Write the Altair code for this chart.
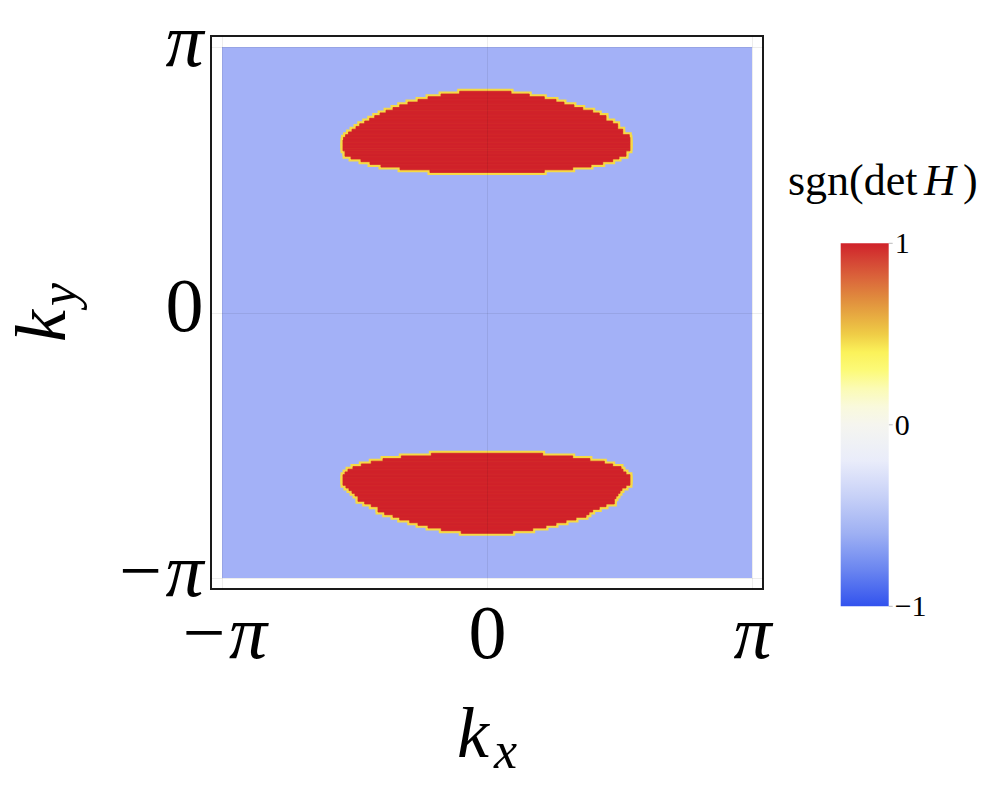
import math
import altair as alt
import pandas as pd

PI = math.pi

# ---- data: sign of det H on the Brillouin zone -------------------------
# background value of the whole zone
BG_VALUE = -1
# upper region (sgn = +1): row edges in ky (top -> bottom) and kx extent of each row
UP_KY_EDGES = [2.618, 2.586, 2.554, 2.522, 2.490, 2.458, 2.426, 2.394, 2.362, 2.330,
               2.298, 2.266, 2.234, 2.202, 2.169, 2.137, 2.105, 2.073, 2.041, 2.009,
               1.977, 1.945, 1.913, 1.881, 1.849, 1.817, 1.785, 1.753, 1.721, 1.689, 1.657]
UP_KX_LEFT = [-0.324, -0.545, -0.699, -0.818, -0.937, -1.035, -1.114, -1.197, -1.268, -1.331,
              -1.391, -1.450, -1.509, -1.553, -1.600, -1.642, -1.677, -1.701, -1.707, -1.707,
              -1.707, -1.707, -1.683, -1.683, -1.612, -1.494, -1.387, -1.257, -1.031, -0.676]
UP_KX_RIGHT = [0.285, 0.501, 0.679, 0.818, 0.913, 1.031, 1.135, 1.253, 1.331, 1.411,
               1.411, 1.490, 1.549, 1.549, 1.609, 1.609, 1.687, 1.695, 1.695, 1.695,
               1.695, 1.695, 1.648, 1.648, 1.565, 1.490, 1.372, 1.233, 1.016, 0.679]
# lower region (sgn = +1)
LO_KY_EDGES = [-1.666, -1.697, -1.729, -1.760, -1.792, -1.824, -1.855, -1.887, -1.919, -1.950,
               -1.982, -2.013, -2.045, -2.077, -2.108, -2.140, -2.172, -2.203, -2.235, -2.266,
               -2.298, -2.330, -2.361, -2.393, -2.424, -2.456, -2.488, -2.519, -2.551, -2.582, -2.614]
LO_KX_LEFT = [-0.660, -1.016, -1.233, -1.372, -1.490, -1.589, -1.648, -1.683, -1.707, -1.707,
              -1.707, -1.707, -1.672, -1.636, -1.600, -1.565, -1.529, -1.529, -1.450, -1.372,
              -1.292, -1.292, -1.213, -1.114, -1.035, -0.916, -0.818, -0.699, -0.542, -0.305]
LO_KX_RIGHT = [0.660, 1.016, 1.220, 1.391, 1.490, 1.589, 1.612, 1.648, 1.695, 1.695,
               1.695, 1.695, 1.648, 1.600, 1.577, 1.553, 1.529, 1.509, 1.509, 1.411,
               1.331, 1.253, 1.209, 1.174, 1.055, 0.937, 0.818, 0.699, 0.542, 0.305]
BLOB_VALUE = 1

# colour bar stops
C_STOPS = [-1, -0.8, -0.6, -0.4, -0.2, 0, 0.15, 0.3, 0.4, 0.5, 0.65, 0.85, 1]
C_COLORS = ["#3252ee", "#6a85f0", "#9eb0f3", "#c6d0f7", "#e9ecfa", "#f5f5ef", "#fbfbd2",
            "#fcfa78", "#fbf25a", "#efcc46", "#e39a3e", "#d8583a", "#d0222a"]
CBAR_VALUES = [1, 0, -1]
CBAR_LABELS = ["1", "0", "−1"]
TICK_VALUES = [-PI, 0, PI]

# ---- tables ------------------------------------------------------------
bg = pd.DataFrame({"kx0": [-PI], "kx1": [PI], "ky0": [-PI], "ky1": [PI], "v": [BG_VALUE]})
rows = []
for edges, left, right in ((UP_KY_EDGES, UP_KX_LEFT, UP_KX_RIGHT),
                           (LO_KY_EDGES, LO_KX_LEFT, LO_KX_RIGHT)):
    for i in range(len(left)):
        rows.append({"kx0": left[i], "kx1": right[i],
                     "ky0": edges[i + 1], "ky1": edges[i], "v": BLOB_VALUE})
blobs = pd.DataFrame(rows)

SERIF = "Liberation Serif"
W, H = 552, 553
PADK = 0.1305  # white margin inside the frame, in k units

xscale = alt.Scale(domain=[-PI - PADK, PI + PADK], nice=False, zero=False)
yscale = alt.Scale(domain=[-PI - PADK * H / W, PI + PADK * H / W], nice=False, zero=False)
cscale = alt.Scale(domain=C_STOPS, range=C_COLORS, interpolate="rgb")

italic_but_zero = {"condition": {"test": "datum.value == 0", "value": "normal"}, "value": "italic"}
pi_expr = "datum.value < -1 ? '−π' : datum.value > 1 ? 'π' : '0'"


def make_axis(pad, offset):
    return alt.Axis(values=TICK_VALUES, labelExpr=pi_expr, title=None, domain=False,
                    ticks=False, tickSize=0, labelFont=SERIF, labelFontSize=76,
                    labelColor="black", labelPadding=pad, labelOffset=offset,
                    labelFlush=False, labelOverlap=False, labelFontStyle=italic_but_zero,
                    grid=True, gridColor="black", gridOpacity=0.07, gridWidth=1, zindex=1)


xaxis = make_axis(8, 0)
yaxis = make_axis(8, -5)

# colour bar geometry (relative to the plot's top-left corner)
CB_X, CB_Y, CB_LEN, CB_THICK = 629.7, 207.3, 363, 48

legend = alt.Legend(title=None, orient="none", legendX=CB_X, legendY=CB_Y, direction="vertical",
                    type="gradient", gradientLength=CB_LEN, gradientThickness=CB_THICK,
                    gradientStrokeWidth=0, gradientOpacity=1, values=[-1, 0, 1],
                    labelExpr="''", labelOpacity=0, padding=0)

enc = dict(
    x=alt.X("kx0:Q", scale=xscale, axis=xaxis),
    x2="kx1:Q",
    y=alt.Y("ky0:Q", scale=yscale, axis=yaxis),
    y2="ky1:Q",
    color=alt.Color("v:Q", scale=cscale, legend=legend),
)

bg_layer = alt.Chart(bg).mark_rect(fillOpacity=0.45).encode(**enc)
border_layer = alt.Chart(blobs).mark_rect(stroke="#f6da45", strokeWidth=5).encode(**enc)
fill_layer = alt.Chart(blobs).mark_rect(stroke="#d0222a", strokeWidth=0.8).encode(**enc)


def label(text, x, y, size, style="normal", angle=0, align="left", baseline="alphabetic"):
    return alt.Chart(pd.DataFrame({"t": [text]})).mark_text(
        font=SERIF, fontSize=size, fontStyle=style, angle=angle, align=align,
        baseline=baseline, color="black"
    ).encode(text="t:N", x=alt.value(x), y=alt.value(y))


titles = [
    label("k", 246, 721, 72, "italic"),
    label("x", 283, 732, 52, "italic"),
    label("k", -146, 306, 72, "italic", angle=270),
    label("y", -135, 270, 52, "italic", angle=270),
    label("sgn(det", 577, 159, 44),
    label("H", 713, 159, 44, "italic"),
    label(")", 752, 159, 44),
]

# colour bar labels and ticks
cb_labels = []
for val, txt in zip(CBAR_VALUES, CBAR_LABELS):
    ypos = CB_Y + (1 - val) / 2 * CB_LEN
    cb_labels.append(label(txt, CB_X + CB_THICK + 6, ypos + 10, 30))
    cb_labels.append(
        alt.Chart(pd.DataFrame({"v": [val]})).mark_rule(color="#bbbbbb", strokeWidth=1).encode(
            x=alt.value(CB_X + CB_THICK), x2=alt.value(CB_X + CB_THICK + 4),
            y=alt.value(ypos)))

chart = alt.layer(bg_layer, border_layer, fill_layer, *titles, *cb_labels).properties(
    width=W, height=H,
    background="white",
    autosize=alt.AutoSizeParams(type="none"),
    padding={"left": 203, "top": 28, "right": 225, "bottom": 193},
).configure_view(stroke="#1a1a1a", strokeWidth=2)

chart.save("out.html", embed_options={"renderer": "svg", "actions": False})
